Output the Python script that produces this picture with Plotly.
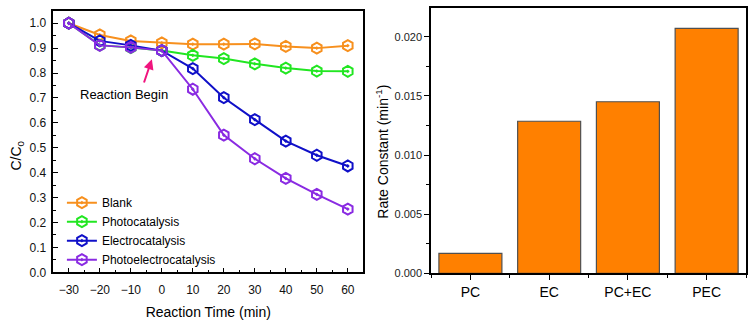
import plotly.graph_objects as go

# Degradation curves (C/C0 versus reaction time)
time_min = [-30, -20, -10, 0, 10, 20, 30, 40, 50, 60]
blank = [1.0, 0.953, 0.929, 0.921, 0.916, 0.916, 0.917, 0.907, 0.900, 0.910]
photocatalysis = [1.0, 0.912, 0.902, 0.890, 0.871, 0.858, 0.837, 0.820, 0.808, 0.807]
electrocatalysis = [1.0, 0.929, 0.911, 0.890, 0.818, 0.701, 0.613, 0.527, 0.470, 0.427]
photoelectrocatalysis = [1.0, 0.911, 0.903, 0.890, 0.735, 0.551, 0.456, 0.377, 0.313, 0.254]

# First-order rate constants
rate_labels = ["PC", "EC", "PC+EC", "PEC"]
rate_values = [0.00168, 0.01286, 0.01451, 0.02072]

series = [
    ("Blank", blank, "#F7901E"),
    ("Photocatalysis", photocatalysis, "#22E622"),
    ("Electrocatalysis", electrocatalysis, "#1010C8"),
    ("Photoelectrocatalysis", photoelectrocatalysis, "#8A2BE2"),
]

FONT = "Liberation Sans, Arial, sans-serif"

fig = go.Figure()

for name, vals, color in series:
    fig.add_trace(go.Scatter(
        x=time_min, y=vals, name=name, mode="lines+markers",
        line=dict(color=color, width=2),
        marker=dict(symbol="hexagon-open-dot", size=11, color=color,
                    line=dict(color=color, width=2)),
        xaxis="x", yaxis="y",
    ))

bar_pos = list(range(len(rate_labels)))
fig.add_trace(go.Bar(
    x=bar_pos, y=rate_values, width=0.8, showlegend=False,
    marker=dict(color="#FF8000", line=dict(color="#505050", width=1.2)),
    xaxis="x2", yaxis="y2",
))

axis_common = dict(showline=True, linecolor="black", linewidth=1.5, mirror=True,
                   showgrid=False, zeroline=False)

fig.update_layout(
    width=755, height=327,
    margin=dict(l=0, r=0, t=0, b=0),
    paper_bgcolor="white", plot_bgcolor="white",
    font=dict(family=FONT, color="black"),
    xaxis=dict(domain=[0.0706, 0.4812], range=[-35, 65], dtick=10, tick0=0,
               ticks="inside", ticklen=5, tickwidth=1.2, tickcolor="black",
               minor=dict(dtick=5, ticks="inside", ticklen=3, tickcolor="black"),
               tickfont=dict(family=FONT, size=12, color="#111"), ticklabelstandoff=5,
               title=dict(text="Reaction Time (min)", font=dict(family=FONT, size=14), standoff=12),
               anchor="y", **axis_common),
    yaxis=dict(domain=[0.1489, 0.9664], range=[0, 1.05], dtick=0.1, tickformat=".1f",
               ticks="inside", ticklen=5, tickwidth=1.2, tickcolor="black",
               minor=dict(dtick=0.05, ticks="inside", ticklen=3, tickcolor="black"),
               tickfont=dict(family=FONT, size=12, color="#111"), ticklabelstandoff=3,
               anchor="x", **axis_common),
    xaxis2=dict(domain=[0.5709, 0.9881], range=[-0.5, 3.5],
                tickvals=bar_pos, ticktext=rate_labels,
                ticks="outside", ticklen=5, tickwidth=1.2, tickcolor="black",
                minor=dict(tick0=0.5, dtick=1, ticks="outside", ticklen=3, tickcolor="black"),
                tickfont=dict(family=FONT, size=14, color="black"),
                anchor="y2", **axis_common),
    yaxis2=dict(domain=[0.1459, 0.9746], range=[0, 0.02243], dtick=0.005, tickformat=".3f",
                ticks="outside", ticklen=5, tickwidth=1.2, tickcolor="black",
                minor=dict(dtick=0.0025, ticks="outside", ticklen=3, tickcolor="black"),
                tickfont=dict(family=FONT, size=11, color="#222"),
                anchor="x2", **axis_common),
    legend=dict(x=0.082, y=0.412, xanchor="left", yanchor="top",
                bgcolor="rgba(0,0,0,0)", font=dict(family=FONT, size=12),
                itemwidth=30, tracegroupgap=0),
    showlegend=True,
)

# Vertical axis titles
fig.add_annotation(x=17 / 755, y=0.514, xref="paper", yref="paper",
                   xanchor="center", yanchor="middle",
                   text="C/C<sub>0</sub>", textangle=-90, showarrow=False,
                   font=dict(family=FONT, size=14, color="black"))
fig.add_annotation(x=382 / 755, y=0.526, xref="paper", yref="paper",
                   xanchor="center", yanchor="middle",
                   text="Rate Constant (min<sup>-1</sup>)", textangle=-90, showarrow=False,
                   font=dict(family=FONT, size=14, color="black"))

# "Reaction Begin" marker: arrow pointing at the start of irradiation/bias
fig.add_annotation(x=-3.2, y=0.855, ax=-5.9, ay=0.756, xref="x", yref="y",
                   axref="x", ayref="y", text="", showarrow=True,
                   arrowhead=2, arrowsize=1, arrowwidth=2, arrowcolor="#F0147E")
fig.add_annotation(x=-12.3, y=0.712, xref="x", yref="y", text="Reaction Begin",
                   showarrow=False, font=dict(family=FONT, size=13, color="black"))

fig.write_html("out.html")
